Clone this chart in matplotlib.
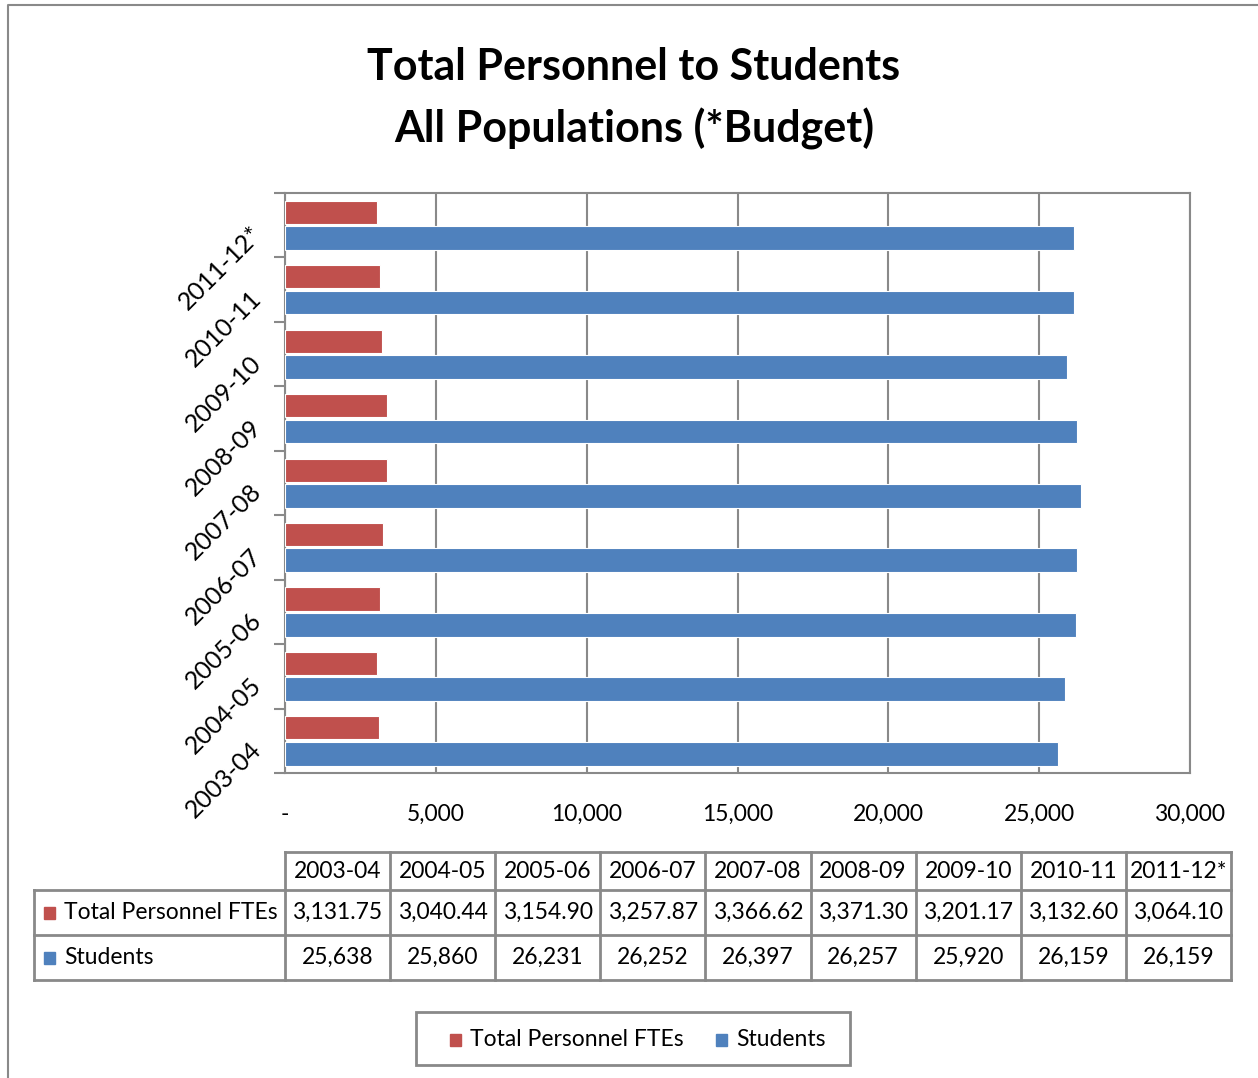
import matplotlib
import numpy as np

matplotlib.use("Agg", force=True)
import matplotlib.pyplot as plt
from matplotlib.patches import Rectangle
from matplotlib.ticker import FuncFormatter


YEARS = ["2003-04", "2004-05", "2005-06", "2006-07", "2007-08",
         "2008-09", "2009-10", "2010-11", "2011-12*"]
PERSONNEL_FTES = [3131.75, 3040.44, 3154.90, 3257.87, 3366.62,
                  3371.30, 3201.17, 3132.60, 3064.10]
STUDENTS = [25638, 25860, 26231, 26252, 26397, 26257, 25920, 26159, 26159]
SERIES_NAMES = ["Total Personnel FTEs", "Students"]
X_TICKS = [0, 5000, 10000, 15000, 20000, 25000, 30000]
TITLE_LINES = ["Total Personnel to Students", "All Populations (*Budget)"]

RED = "#C0504D"
BLUE = "#4F81BD"
GRAY = "#898989"
FONT = ["Lato", "DejaVu Sans"]
FS = 16.5

W, H = 1258, 1078
plt.rcParams["font.family"] = FONT

fig = plt.figure(figsize=(W / 100, H / 100), dpi=100)

# full-figure canvas in pixel units for title, table, legend and frame
canvas = fig.add_axes([0, 0, 1, 1])
canvas.set_xlim(0, W)
canvas.set_ylim(H, 0)
canvas.axis("off")

# outer chart frame (only left and top edges fall inside the image)
canvas.plot([8, 8, W + 5], [H + 5, 5, 5], color=GRAY, lw=1.5, clip_on=False)

for i, line in enumerate(TITLE_LINES):
    canvas.text(634, 80 + 63 * i, line, ha="center", va="baseline",
                fontsize=31, fontweight="bold")

# bar chart
left, right, top, bottom = 285, 1190, 193, 773
ax = fig.add_axes([left / W, 1 - bottom / H, (right - left) / W, (bottom - top) / H])
pos = np.arange(len(YEARS))
ax.barh(pos + 0.2, PERSONNEL_FTES, height=0.36, color=RED,
        edgecolor="white", linewidth=0.8, zorder=3)
ax.barh(pos - 0.2, STUDENTS, height=0.37, color=BLUE,
        edgecolor="white", linewidth=0.8, zorder=3)
ax.set_xlim(X_TICKS[0], X_TICKS[-1])
ax.set_ylim(-0.5, len(YEARS) - 0.5)
ax.set_xticks(X_TICKS)
ax.xaxis.set_major_formatter(FuncFormatter(lambda v, _: "-" if v == 0 else f"{v:,.0f}"))
ax.xaxis.grid(True, color=GRAY, lw=1.5)
ax.set_axisbelow(True)
ax.tick_params(axis="x", length=0, pad=22, labelsize=FS)
ax.set_yticks(np.arange(-0.5, len(YEARS)))
ax.set_yticklabels([])
ax.tick_params(axis="y", length=8, width=1.5, color=GRAY, direction="out")
for spine in ax.spines.values():
    spine.set_color(GRAY)
    spine.set_linewidth(1.5)

for p, year in zip(pos, YEARS):
    ax.text(-0.03, p - 0.08, year, transform=ax.get_yaxis_transform(),
            rotation=45, rotation_mode="anchor", ha="right", va="center",
            fontsize=18)

# data table below the chart
tbl_left, tbl_right = 285, 1231
label_left = 34
row_edges = [852, 890, 935, 980]
col_edges = np.linspace(tbl_left, tbl_right, len(YEARS) + 1)
line_kw = dict(color=GRAY, lw=2)

canvas.plot([tbl_left, tbl_right], [row_edges[0]] * 2, **line_kw)
for yv in row_edges[1:]:
    canvas.plot([label_left, tbl_right], [yv] * 2, **line_kw)
for xv in col_edges:
    canvas.plot([xv, xv], [row_edges[0], row_edges[-1]], **line_kw)
canvas.plot([label_left, label_left], [row_edges[1], row_edges[-1]], **line_kw)

centers = (col_edges[:-1] + col_edges[1:]) / 2
row_mid = [(row_edges[k] + row_edges[k + 1]) / 2 for k in range(3)]
for cx, year in zip(centers, YEARS):
    canvas.text(cx, row_mid[0], year, ha="center", va="center", fontsize=FS)
for cx, v in zip(centers, PERSONNEL_FTES):
    canvas.text(cx, row_mid[1], f"{v:,.2f}", ha="center", va="center", fontsize=FS)
for cx, v in zip(centers, STUDENTS):
    canvas.text(cx, row_mid[2], f"{v:,}", ha="center", va="center", fontsize=FS)

for k, (name, color) in enumerate(zip(SERIES_NAMES, [RED, BLUE])):
    ym = row_mid[k + 1]
    canvas.add_patch(Rectangle((44, ym - 6), 11, 12, color=color))
    canvas.text(64, ym, name, ha="left", va="center", fontsize=FS)

# legend box
canvas.add_patch(Rectangle((416, 1012), 434, 53, fill=False, edgecolor=GRAY, lw=2))
legend_items = [(450, 470), (716, 736)]
for (sq_x, tx), name, color in zip(legend_items, SERIES_NAMES, [RED, BLUE]):
    canvas.add_patch(Rectangle((sq_x, 1034), 11, 12, color=color))
    canvas.text(tx, 1040, name, ha="left", va="center", fontsize=FS)

fig.savefig("out.png", dpi=100)
